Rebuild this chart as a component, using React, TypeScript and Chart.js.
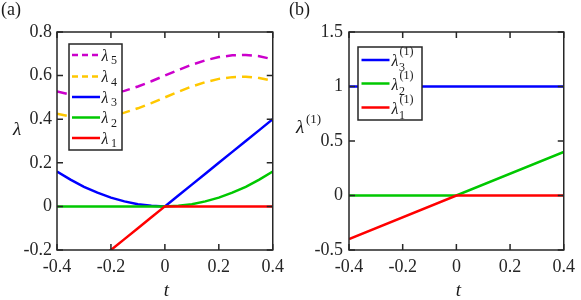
import React, { useEffect, useRef } from 'react';
import { Chart, registerables } from 'chart.js';

Chart.register(...registerables);

// ---------- data ----------
const tGrid = [-0.4, -0.35, -0.3, -0.25, -0.2, -0.15, -0.1, -0.05, 0, 0.05, 0.1, 0.15, 0.2, 0.25, 0.3, 0.35, 0.4];
const lambda1 = [-0.4, -0.35, -0.3, -0.25, -0.2, -0.15, -0.1, -0.05, 0, 0, 0, 0, 0, 0, 0, 0, 0];
const lambda2 = [0, 0, 0, 0, 0, 0, 0, 0, 0, 0.003, 0.01, 0.023, 0.04, 0.063, 0.09, 0.123, 0.16];
const lambda3 = [0.16, 0.123, 0.09, 0.063, 0.04, 0.023, 0.01, 0.003, 0, 0.05, 0.1, 0.15, 0.2, 0.25, 0.3, 0.35, 0.4];
const lambda4 = [0.425, 0.412, 0.406, 0.407, 0.415, 0.43, 0.45, 0.474, 0.5, 0.526, 0.55, 0.57, 0.585, 0.593, 0.595, 0.589, 0.577];
const lambda5 = [0.527, 0.513, 0.506, 0.507, 0.515, 0.53, 0.55, 0.574, 0.6, 0.626, 0.65, 0.67, 0.685, 0.693, 0.695, 0.689, 0.675];

const tB = [-0.4, 0, 0.4];
const lambda1B = [-0.4, 0, 0];
const lambda2B = [0, 0, 0.4];
const lambda3B = [1, 1, 1];

const xTickValues = [-0.4, -0.2, 0, 0.2, 0.4];
const xTickLabels = ['-0.4', '-0.2', '0', '0.2', '0.4'];
const yTickValuesA = [-0.2, 0, 0.2, 0.4, 0.6, 0.8];
const yTickLabelsA = ['-0.2', '0', '0.2', '0.4', '0.6', '0.8'];
const yTickValuesB = [-0.5, 0, 0.5, 1, 1.5];
const yTickLabelsB = ['-0.5', '0', '0.5', '1', '1.5'];

// ---------- styles ----------
const RED = '#FF0000';
const GREEN = '#00C800';
const BLUE = '#0000FF';
const YELLOW = '#FFC800';
const MAGENTA = '#CC00CC';
const AXIS = '#262626';
const FONT = "Liberation Serif, DejaVu Serif, serif";
const DASH = [10, 6];

const lineDs = (xs: number[], ys: number[], color: string, dash: number[] = []) => ({
  data: xs.map((x, i) => ({ x, y: ys[i] })),
  borderColor: color,
  backgroundColor: color,
  borderWidth: 2.5,
  borderDash: dash,
  pointRadius: 0,
  fill: false,
  tension: 0,
});

const boxPlugin = {
  id: 'boxTicks',
  afterDatasetsDraw(chart: any) {
    const { ctx, chartArea: a, scales } = chart;
    const xs = scales.x;
    const ys = scales.y;
    const L = 6;
    ctx.save();
    ctx.strokeStyle = AXIS;
    ctx.lineWidth = 1.5;
    ctx.beginPath();
    xs.ticks.forEach((t: any) => {
      const px = xs.getPixelForValue(t.value);
      ctx.moveTo(px, a.bottom);
      ctx.lineTo(px, a.bottom - L);
      ctx.moveTo(px, a.top);
      ctx.lineTo(px, a.top + L);
    });
    ys.ticks.forEach((t: any) => {
      const py = ys.getPixelForValue(t.value);
      ctx.moveTo(a.left, py);
      ctx.lineTo(a.left + L, py);
      ctx.moveTo(a.right, py);
      ctx.lineTo(a.right - L, py);
    });
    ctx.stroke();
    ctx.strokeRect(a.left, a.top, a.right - a.left, a.bottom - a.top);
    ctx.restore();
  },
};

function makeConfig(
  datasets: any[],
  yMin: number,
  yMax: number,
  yVals: number[],
  yLabels: string[],
  yWidth: number,
  padRight: number,
  yPad: number
): any {
  return {
    type: 'line',
    data: { datasets },
    options: {
      animation: false,
      responsive: false,
      devicePixelRatio: 1,
      layout: { padding: { left: 0, top: 32, right: padRight, bottom: 0 } },
      plugins: { legend: { display: false }, tooltip: { enabled: false }, title: { display: false } },
      scales: {
        x: {
          type: 'linear',
          min: -0.4,
          max: 0.4,
          grid: { display: false, drawTicks: false },
          border: { display: false },
          afterBuildTicks: (s: any) => {
            s.ticks = xTickValues.map((v) => ({ value: v }));
          },
          afterFit: (s: any) => {
            s.height = 50;
          },
          ticks: {
            padding: 6,
            color: AXIS,
            autoSkip: false,
            maxRotation: 0,
            font: { family: FONT, size: 18 },
            callback: (v: number) => {
              const i = xTickValues.findIndex((t) => Math.abs(t - v) < 1e-9);
              return i >= 0 ? xTickLabels[i] : '';
            },
          },
        },
        y: {
          type: 'linear',
          min: yMin,
          max: yMax,
          grid: { display: false, drawTicks: false },
          border: { display: false },
          afterBuildTicks: (s: any) => {
            s.ticks = yVals.map((v) => ({ value: v }));
          },
          afterFit: (s: any) => {
            s.width = yWidth;
          },
          ticks: {
            padding: yPad,
            color: AXIS,
            autoSkip: false,
            font: { family: FONT, size: 18 },
            callback: (v: number) => {
              const i = yVals.findIndex((t) => Math.abs(t - v) < 1e-9);
              return i >= 0 ? yLabels[i] : '';
            },
          },
        },
      },
    },
    plugins: [boxPlugin],
  };
}

function ChartPanel({ left, width, build }: { left: number; width: number; build: () => any }) {
  const ref = useRef<HTMLCanvasElement>(null);
  useEffect(() => {
    const chart = new Chart(ref.current as HTMLCanvasElement, build());
    return () => chart.destroy();
  }, []);
  return (
    <canvas
      ref={ref}
      width={width}
      height={300}
      style={{ position: 'absolute', left, top: 0, width, height: 300, display: 'block' }}
    />
  );
}

const buildA = () =>
  makeConfig(
    [
      lineDs(tGrid, lambda1, RED),
      lineDs(tGrid, lambda2, GREEN),
      lineDs(tGrid, lambda3, BLUE),
      lineDs(tGrid, lambda4, YELLOW, DASH),
      lineDs(tGrid, lambda5, MAGENTA, DASH),
    ],
    -0.2,
    0.8,
    yTickValuesA,
    yTickLabelsA,
    57,
    14,
    5
  );

const buildB = () =>
  makeConfig(
    [lineDs(tB, lambda1B, RED), lineDs(tB, lambda2B, GREEN), lineDs(tB, lambda3B, BLUE)],
    -0.5,
    1.5,
    yTickValuesB,
    yTickLabelsB,
    59,
    13,
    6
  );

const legendA = [
  { sub: '5', color: MAGENTA, dash: true, y: 55 },
  { sub: '4', color: YELLOW, dash: true, y: 76.5 },
  { sub: '3', color: BLUE, dash: false, y: 97 },
  { sub: '2', color: GREEN, dash: false, y: 117.5 },
  { sub: '1', color: RED, dash: false, y: 138 },
];

const legendB = [
  { sub: '3', color: BLUE, y: 60 },
  { sub: '2', color: GREEN, y: 83.5 },
  { sub: '1', color: RED, y: 107.5 },
];

function Overlay() {
  const txt = { fontFamily: FONT, fill: '#1a1a1a' } as any;
  return (
    <svg
      width={581}
      height={300}
      fontFamily={FONT}
      style={{ position: 'absolute', left: 0, top: 0, pointerEvents: 'none', fontFamily: FONT }}
    >
      {/* panel labels */}
      <text x={1} y={15} fontSize={18} style={txt}>(a)</text>
      <text x={289} y={15} fontSize={18} style={txt}>(b)</text>

      {/* axis labels */}
      <text x={13} y={135} fontSize={19} fontStyle="italic" style={txt}>λ</text>
      <text x={166.5} y={296} fontSize={19} fontStyle="italic" textAnchor="middle" style={txt}>t</text>
      <text x={296} y={133} fontSize={19} fontStyle="italic" style={txt}>λ</text>
      <text x={306} y={123} fontSize={13} style={txt}>(1)</text>
      <text x={458.5} y={296} fontSize={19} fontStyle="italic" textAnchor="middle" style={txt}>t</text>

      {/* legend (a) */}
      <rect x={69} y={44} width={53} height={106} fill="#ffffff" stroke={AXIS} strokeWidth={1.5} />
      {legendA.map((e) => (
        <g key={'a' + e.sub}>
          <line
            x1={72}
            x2={100}
            y1={e.y}
            y2={e.y}
            stroke={e.color}
            strokeWidth={2.5}
            strokeDasharray={e.dash ? '6 4' : undefined}
          />
          <text x={101.5} y={e.y + 5.5} fontSize={16} fontStyle="italic" style={txt}>λ</text>
          <text x={111} y={e.y + 9} fontSize={12} style={txt}>{e.sub}</text>
        </g>
      ))}

      {/* legend (b) */}
      <rect x={358} y={47} width={64} height={73} fill="#ffffff" stroke={AXIS} strokeWidth={1.5} />
      {legendB.map((e) => (
        <g key={'b' + e.sub}>
          <line x1={361.5} x2={389.5} y1={e.y} y2={e.y} stroke={e.color} strokeWidth={2.5} />
          <text x={391.5} y={e.y + 6} fontSize={16} fontStyle="italic" style={txt}>λ</text>
          <text x={399} y={e.y + 11} fontSize={12} style={txt}>{e.sub}</text>
          <text x={399.5} y={e.y - 5} fontSize={12} style={txt}>(1)</text>
        </g>
      ))}
    </svg>
  );
}

export default function App() {
  return (
    <div style={{ position: 'absolute', left: 0, top: 0, width: 581, height: 300, background: '#ffffff' }}>
      <ChartPanel left={0} width={290} build={buildA} />
      <ChartPanel left={290} width={291} build={buildB} />
      <Overlay />
    </div>
  );
}
